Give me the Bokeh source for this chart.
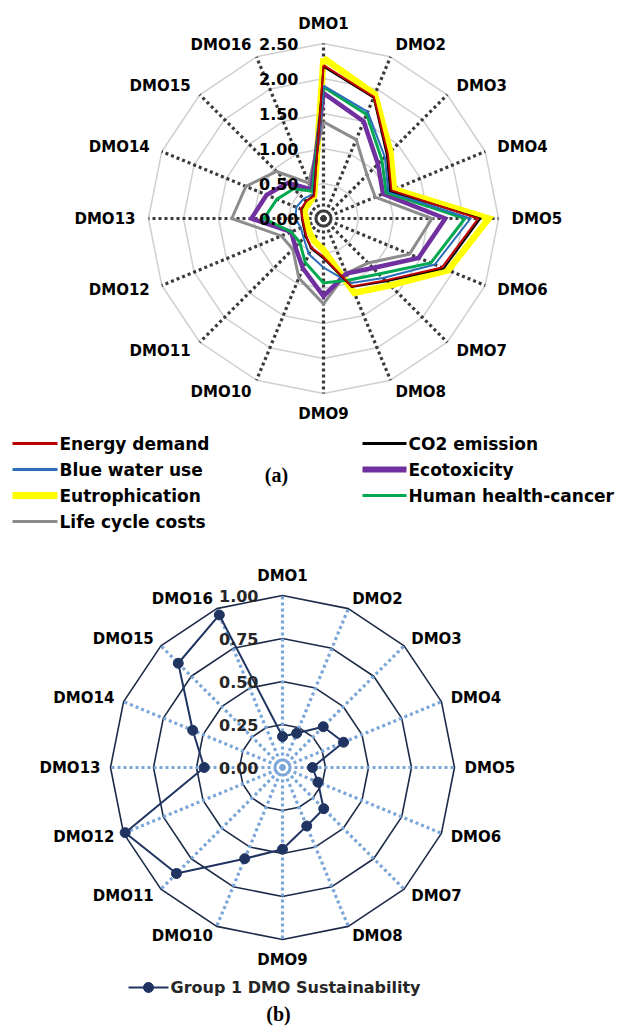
import numpy as np
from bokeh.plotting import figure
from bokeh.models import Range1d
from bokeh.embed import file_html
from bokeh.resources import INLINE
from bokeh.core.properties import value

# ---------------------------------------------------------------- data
categories = [f"DMO{i}" for i in range(1, 17)]

# (a) environmental / economic indicators per DMO
energy_demand       = [2.19, 1.88, 1.30, 1.05, 2.21, 1.83, 1.25, 1.05, 0.55, 0.45, 0.35, 0.30, 0.30, 0.35, 0.35, 0.35]
co2_emission        = [2.17, 1.87, 1.28, 1.03, 2.24, 1.86, 1.27, 1.06, 0.57, 0.46, 0.36, 0.31, 0.31, 0.34, 0.35, 0.36]
blue_water_use      = [1.90, 1.65, 1.24, 1.00, 2.10, 1.72, 1.20, 1.00, 0.70, 0.55, 0.40, 0.35, 0.40, 0.42, 0.40, 0.38]
ecotoxicity         = [1.79, 1.50, 1.10, 0.92, 1.74, 1.47, 1.00, 0.85, 1.11, 0.77, 0.57, 0.50, 1.03, 0.88, 0.72, 0.45]
eutrophication      = [2.29, 1.92, 1.35, 1.09, 2.36, 1.93, 1.35, 1.15, 0.45, 0.35, 0.28, 0.25, 0.25, 0.30, 0.30, 0.35]
human_health_cancer = [1.88, 1.61, 1.18, 0.97, 2.02, 1.66, 1.12, 0.95, 0.92, 0.68, 0.48, 0.50, 0.85, 0.72, 0.60, 0.42]
life_cycle_costs    = [1.38, 1.22, 0.88, 0.80, 1.55, 1.33, 0.90, 0.85, 1.22, 0.92, 0.62, 0.65, 1.31, 1.20, 0.95, 0.55]

ticks_a = [0.0, 0.5, 1.0, 1.5, 2.0, 2.5]

# (b) aggregated sustainability score
group1_sustainability = [0.18, 0.215, 0.335, 0.384, 0.174, 0.223, 0.339, 0.368,
                         0.475, 0.574, 0.872, 0.99, 0.455, 0.565, 0.857, 0.96]
ticks_b = [0.0, 0.25, 0.5, 0.75, 1.0]

# ---------------------------------------------------------------- helpers
N = len(categories)
ANG = np.arange(N) * 2 * np.pi / N          # clockwise from the top


def to_xy(cx, cy, scale, vals, close=False):
    v = np.asarray(vals, dtype=float)
    a = ANG
    if close:
        v = np.append(v, v[0])
        a = np.append(a, a[0])
    return cx + scale * v * np.sin(a), cy - scale * v * np.cos(a)


FONT = value("DejaVu Sans")

p = figure(width=625, height=1032,
           x_range=Range1d(0, 625), y_range=Range1d(1032, 0),
           x_axis_type=None, y_axis_type=None,
           output_backend="svg", toolbar_location=None, min_border=0)
p.grid.visible = False
p.outline_line_color = None
p.background_fill_color = "white"
p.border_fill_color = "white"


def radar_frame(cx, cy, scale, ticks, ring_color, ring_width, spoke_color,
                label_r, label_r_vert):
    top = ticks[-1]
    # concentric polygon rings
    xs, ys = [], []
    for t in ticks[1:]:
        x, y = to_xy(cx, cy, scale, [t] * N, close=True)
        xs.append(list(x)); ys.append(list(y))
    p.multi_line(xs, ys, line_color=ring_color, line_width=ring_width)
    # dotted spokes, each starting at the centre
    sx, sy = [], []
    ex, ey = to_xy(cx, cy, scale, [top] * N)
    for i in range(N):
        sx.append([cx, ex[i]]); sy.append([cy, ey[i]])
    p.multi_line(sx, sy, line_color=spoke_color, line_width=3.2, line_dash="3 3")
    # category labels around the rim
    groups = {}
    for i, name in enumerate(categories):
        s, c = np.sin(ANG[i]), np.cos(ANG[i])
        if abs(c) > 0.95:
            align, r = "center", label_r_vert
        elif s > 0:
            align, r = "left", label_r
        else:
            align, r = "right", label_r
        g = groups.setdefault(align, ([], [], []))
        g[0].append(cx + r * s); g[1].append(cy - r * c); g[2].append(name)
    for align, (gx, gy, gt) in groups.items():
        p.text(gx, gy, text=gt, text_align=align, text_baseline="middle",
               text_font=FONT, text_font_style="bold", text_font_size="15px",
               text_color="#000000")


def value_labels(cx, cy, scale, ticks, dx, color):
    p.text([cx - dx] * len(ticks), [cy - scale * t for t in ticks],
           text=[f"{t:.2f}" for t in ticks], text_align="right",
           text_baseline="middle", text_font=FONT, text_font_style="bold",
           text_font_size="16px", text_color=color)


# ---------------------------------------------------------------- chart (a)
CXA, CYA, SA = 323, 218, 70.0
radar_frame(CXA, CYA, SA, ticks_a, "#d0d0d0", 1.5, "#3a3a3a", 188, 195)

series_a = [
    ("Eutrophication", eutrophication, "#ffff00", 6.5),
    ("Life cycle costs", life_cycle_costs, "#8c8c8c", 3),
    ("Ecotoxicity", ecotoxicity, "#7030a0", 4.5),
    ("Human health-cancer", human_health_cancer, "#00a84f", 3),
    ("Blue water use", blue_water_use, "#2a6ebb", 2),
    ("CO2 emission", co2_emission, "#000000", 2),
    ("Energy demand", energy_demand, "#c00000", 2),
]
for name, vals, col, w in series_a:
    x, y = to_xy(CXA, CYA, SA, vals, close=True)
    p.line(x, y, line_color=col, line_width=w, line_join="miter")

value_labels(CXA, CYA, SA, ticks_a, 25, "#000000")

# legend (a): two columns
legend_rows = [443, 469, 495, 521]
legend_a = [
    (12, 57, 59, 0, "Energy demand", "#c00000", 3),
    (12, 57, 59, 1, "Blue water use", "#2a6ebb", 3),
    (12, 57, 59, 2, "Eutrophication", "#ffff00", 7),
    (12, 57, 59, 3, "Life cycle costs", "#8c8c8c", 3),
    (362, 406, 408, 0, "CO2 emission", "#000000", 3),
    (362, 406, 408, 1, "Ecotoxicity", "#7030a0", 6),
    (362, 406, 408, 2, "Human health-cancer", "#00a84f", 3),
]
for x0, x1, tx, row, label, col, w in legend_a:
    yy = legend_rows[row]
    p.line([x0, x1], [yy, yy], line_color=col, line_width=w)
    p.text([tx], [yy], text=[label], text_align="left", text_baseline="middle",
           text_font=FONT, text_font_style="bold", text_font_size="17px",
           text_color="#000000")

p.text([276], [474], text=["(a)"], text_align="center", text_baseline="middle",
       text_font=value("Liberation Serif"), text_font_style="bold",
       text_font_size="20px", text_color="#000000")

# ---------------------------------------------------------------- chart (b)
CXB, CYB, SB = 282, 767, 172.0
radar_frame(CXB, CYB, SB, ticks_b, "#1c2a48", 1.6, "#7aa6d8", 182, 192)

NAVY = "#1f3460"
xb, yb = to_xy(CXB, CYB, SB, group1_sustainability, close=True)
p.line(xb, yb, line_color=NAVY, line_width=2)
xm, ym = to_xy(CXB, CYB, SB, group1_sustainability)
p.scatter(xm, ym, size=10, fill_color=NAVY, line_color=NAVY)

value_labels(CXB, CYB, SB, ticks_b, 24, "#262626")

# legend (b)
p.line([128, 168], [987, 987], line_color=NAVY, line_width=2)
p.scatter([148], [987], size=10, fill_color=NAVY, line_color=NAVY)
p.text([170], [987], text=["Group 1 DMO Sustainability"], text_align="left",
       text_baseline="middle", text_font=FONT, text_font_style="bold",
       text_font_size="16px", text_color="#262626")

p.text([278], [1013], text=["(b)"], text_align="center", text_baseline="middle",
       text_font=value("Liberation Serif"), text_font_style="bold",
       text_font_size="20px", text_color="#000000")

open("out.html", "w").write(file_html(p, INLINE))
